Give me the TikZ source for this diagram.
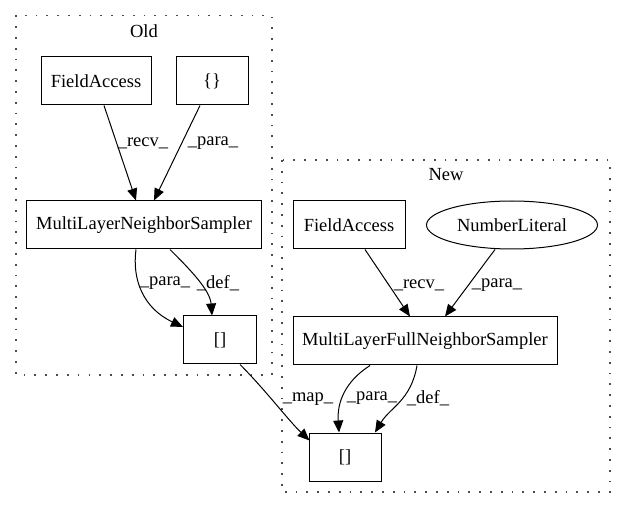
\documentclass[tikz,border=0pt]{standalone}
\usepackage{fontspec}
\setmainfont{Liberation Serif}
\usetikzlibrary{arrows.meta,shapes.geometric,calc}
\tikzset{
  txt/.style={font=\fontsize{18.5pt}{21pt}\selectfont},
  box/.style={draw, line width=1pt, rectangle, minimum height=48pt, inner sep=0pt, txt},
  oval/.style={draw, line width=1pt, ellipse, minimum width=171pt, minimum height=48pt, inner sep=0pt, txt},
  cluster/.style={draw, line width=1.8pt, dash pattern=on 1.8pt off 9pt, black!70},
  edge/.style={draw, line width=1pt, -{Triangle[length=12pt,width=10pt]}},
  lbl/.style={txt, inner sep=0pt},
  ctitle/.style={txt, inner sep=0pt}
}
\begin{document}
\begin{tikzpicture}[x=1pt,y=-1pt]
\useasboundingbox (0,0) rectangle (625,508);
% clusters
\draw[cluster] (16,15.5) rectangle (272,375);
\node[ctitle] (oldt) at (144,31) {Old};
\draw[cluster] (282,160) rectangle (610,492);
\node[ctitle] (newt) at (446,175) {New};
% old nodes
\node[box, minimum width=110pt] (fa1) at (96,81) {FieldAccess};
\node[box, minimum width=72pt] (br) at (212,81) {\{\}};
\node[box, minimum width=235pt] (mlns) at (144,225) {MultiLayerNeighborSampler};
\node[box, minimum width=73pt] (ix1) at (220,340) {[]};
% new nodes
\node[box, minimum width=112pt] (fa2) at (349,225) {FieldAccess};
\node[oval] (nl) at (512,225) {NumberLiteral};
\node[box, minimum width=264pt] (mlfns) at (425,341) {MultiLayerFullNeighborSampler};
\node[box, minimum width=72pt] (ix2) at (345,457) {[]};
% old edges
\draw[edge] ($(fa1.south)+(8,0)$) -- ($(mlns.north)+(-8,0)$);
\node[lbl] (l1) at (143,143) {\_recv\_};
\draw[edge] ($(br.south)+(-12,0)$) -- ($(mlns.north)+(10,0)$);
\node[lbl] (l2) at (213,143) {\_para\_};
\draw[edge] ($(mlns.south)+(-8,0)$) .. controls ($(mlns.south)+(-12,30)$) and ($(ix1.west)+(-40,-32)$) .. ($(ix1.west)+(0,-13)$);
\node[lbl] (l3) at (165,283) {\_para\_};
\draw[edge] ($(mlns.south)+(26,0)$) .. controls ($(mlns.south)+(44,18)$) and ($(ix1.north)+(-10,-26)$) .. ($(ix1.north)+(-8,0)$);
\node[lbl] (l4) at (218,283) {\_def\_};
% map edge
\draw[edge] ($(ix1.south)+(20,0)$) .. controls ($(ix1.south)+(45,25)$) and ($(ix2.north west)+(-20,-12)$) .. ($(ix2.north west)+(1,8)$);
\node[lbl] (l5) at (308,399) {\_map\_};
% new edges
\draw[edge] ($(fa2.south)+(16,0)$) -- ($(mlfns.north)+(-15,0)$);
\node[lbl] (l6) at (419,285) {\_recv\_};
\draw[edge] ($(nl.south)+(-17,0)$) -- ($(mlfns.north)+(20,0)$);
\node[lbl] (l7) at (497,285) {\_para\_};
\draw[edge] ($(mlfns.south)+(-55,0)$) .. controls ($(mlfns.south)+(-80,16)$) and ($(ix2.north)+(-8,-30)$) .. ($(ix2.north)+(-6,0)$);
\node[lbl] (l8) at (372,398) {\_para\_};
\draw[edge] ($(mlfns.south)+(-8,0)$) .. controls ($(mlfns.south)+(-14,35)$) and ($(ix2.north)+(45,-25)$) .. ($(ix2.north)+(30,0)$);
\node[lbl] (l9) at (428,398) {\_def\_};
\end{tikzpicture}
\end{document}
